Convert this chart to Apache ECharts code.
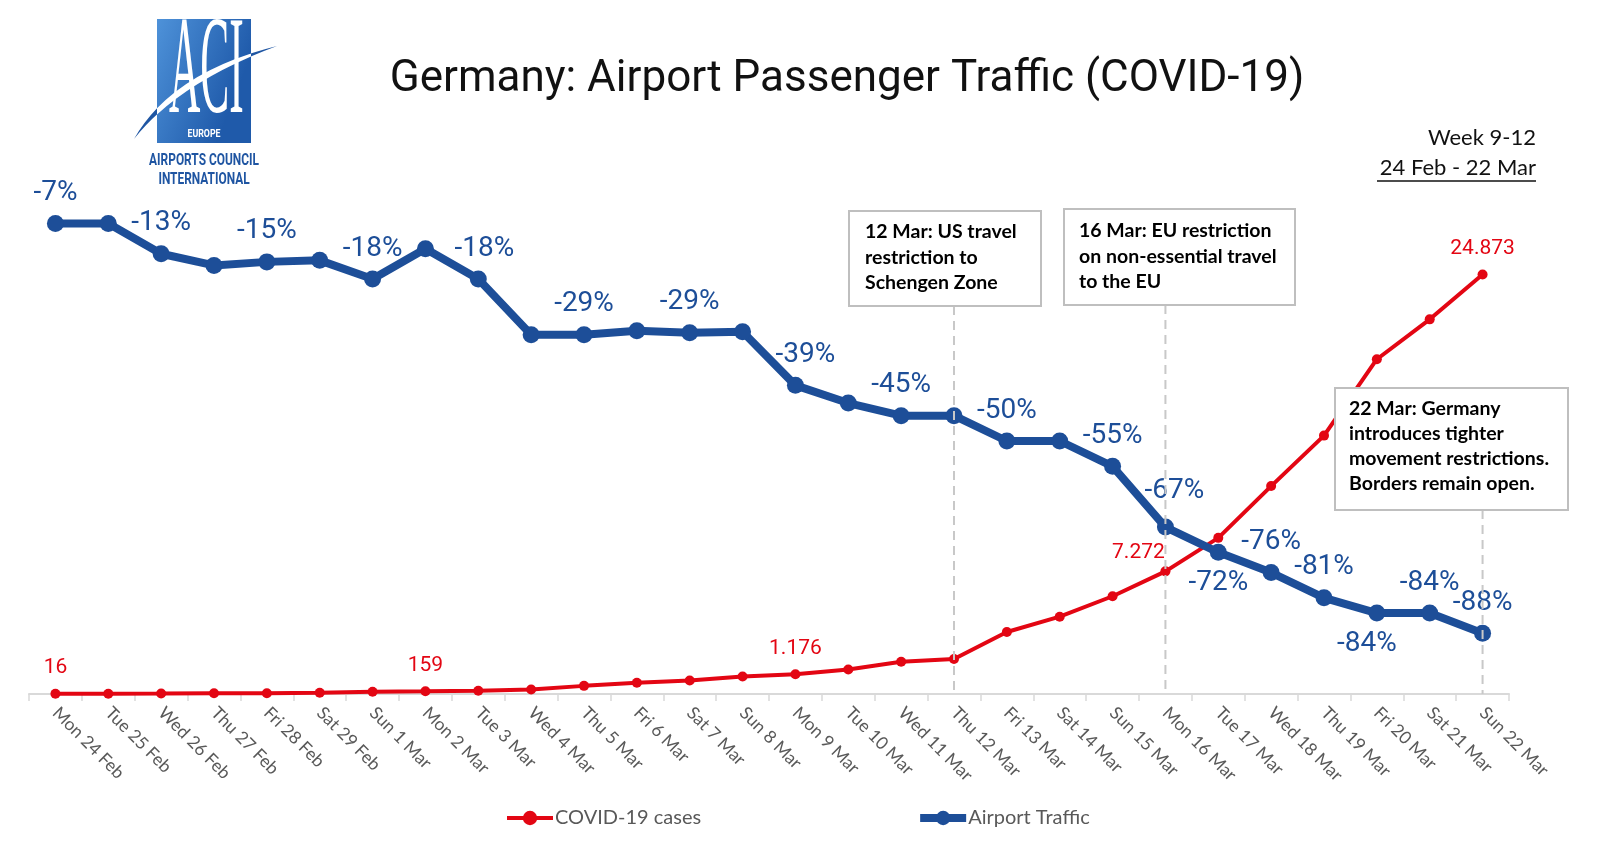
<!DOCTYPE html>
<html><head><meta charset="utf-8">
<script src="https://cdn.jsdelivr.net/npm/echarts@6/dist/echarts.min.js"></script>
<style>html,body{margin:0;padding:0;background:#fff}#c{width:1600px;height:847px}</style>
</head><body><div id="c"></div>
<script>
const categories = ['Mon 24 Feb','Tue 25 Feb','Wed 26 Feb','Thu 27 Feb','Fri 28 Feb','Sat 29 Feb','Sun 1 Mar','Mon 2 Mar','Tue 3 Mar','Wed 4 Mar','Thu 5 Mar','Fri 6 Mar','Sat 7 Mar','Sun 8 Mar','Mon 9 Mar','Tue 10 Mar','Wed 11 Mar','Thu 12 Mar','Fri 13 Mar','Sat 14 Mar','Sun 15 Mar','Mon 16 Mar','Tue 17 Mar','Wed 18 Mar','Thu 19 Mar','Fri 20 Mar','Sat 21 Mar','Sun 22 Mar'];
const covidCases = [16,17,27,46,48,79,130,159,196,262,482,670,799,1040,1176,1457,1908,2078,3675,4585,5795,7272,9257,12327,15320,19848,22213,24873];
const airportTraffic = [-7,-7,-13,-15.3,-14.6,-14.3,-18,-12,-18,-29,-29,-28.2,-28.6,-28.4,-39,-42.5,-45,-45,-50,-50,-55,-67,-72,-76,-81,-84,-84,-88];
const casesLabelled = [0,7,14,21,27];
const trafficLabelled = [0,2,4,6,8,10,12,14,16,18,20,21,22,23,24,25,26,27];
const trafficLabelBelow = [22,25];
const annotations = [
  {cat:'Thu 12 Mar', lines:['12 Mar: US travel','restriction to','Schengen Zone']},
  {cat:'Mon 16 Mar', lines:['16 Mar: EU restriction','on non-essential travel','to the EU']},
  {cat:'Sun 22 Mar', lines:['22 Mar: Germany','introduces tighter','movement restrictions.','Borders remain open.']}
];
const titleText = 'Germany: Airport Passenger Traffic (COVID-19)';
const weekText = ['Week 9-12','24 Feb - 22 Mar'];

const BLUE = '#1d4e98', RED = '#e30613';
const fmtDE = v => String(v).replace(/\B(?=(\d{3})+(?!\d))/g, '.');
const labelNudge = {8:[6,0], 14:[10,0], 21:[9,-6], 25:[-10,0]};

const chart = echarts.init(document.getElementById('c'), null, {renderer:'canvas'});

const redSeries = {
  name:'COVID-19 cases', type:'line', yAxisIndex:1, z:2,
  symbol:'circle', symbolSize:10,
  lineStyle:{width:4, color:RED}, itemStyle:{color:RED},
  label:{fontFamily:'Roboto', fontSize:21, color:RED, formatter:p=>fmtDE(p.value), distance:10},
  data: covidCases.map((v,i)=>({
    value:v,
    label: casesLabelled.includes(i) ? (i===21 ? {show:true, position:'top', offset:[-27,7]} : {show:true, position:'top'}) : {show:false}
  }))
};
const blueSeries = {
  name:'Airport Traffic', type:'line', yAxisIndex:0, z:3,
  symbol:'circle', symbolSize:17,
  lineStyle:{width:8, color:BLUE}, itemStyle:{color:BLUE},
  label:{fontFamily:'Roboto', fontSize:28, color:BLUE, formatter:p=>Math.round(p.value)+'%', distance:8},
  data: airportTraffic.map((v,i)=>({
    value:v,
    label: trafficLabelled.includes(i) ? {show:true, position: trafficLabelBelow.includes(i)?'bottom':'top', offset: labelNudge[i]||[0,0]} : {show:false}
  }))
};

chart.setOption({
  animation:false,
  backgroundColor:'#fff',
  legend:{
    data:[
      {name:'COVID-19 cases', lineStyle:{width:4}},
      {name:'Airport Traffic', lineStyle:{width:8}}
    ],
    left:500, top:803, itemGap:215,
    itemWidth:46, itemHeight:18,
    textStyle:{fontFamily:'Lato', fontSize:20, color:'#595959', padding:[0,0,0,-3]}
  },
  grid:{left:29, right:91, top:188, bottom:153},
  xAxis:{
    type:'category', data:categories, boundaryGap:true,
    axisLine:{onZero:false, lineStyle:{color:'#d9d9d9', width:2}},
    axisTick:{show:true, length:7, lineStyle:{color:'#d9d9d9', width:1.5}},
    axisLabel:{interval:0, rotate:-45, margin:16, fontFamily:'Lato', fontSize:17.5, color:'#595959'}
  },
  yAxis:[
    {type:'value', min:-100, max:0, show:false},
    {type:'value', min:0, max:30000, show:false}
  ],
  series:[redSeries, blueSeries]
});

// annotation graphics
const yBottom = chart.convertToPixel({yAxisIndex:0}, -100);
const boxes = [
  {x:849, y:211, w:192, h:95, tx:865, ty:219, lh:25.5},
  {x:1064, y:209, w:231, h:96, tx:1079, ty:218, lh:25.5},
  {x:1335, y:388, w:233, h:122, tx:1349, ty:396.5, lh:25}
];
const graphics = [];
annotations.forEach((a,k)=>{
  const b = boxes[k];
  const xPix = chart.convertToPixel({xAxisIndex:0}, a.cat);
  graphics.push({type:'line', z:5, shape:{x1:xPix, y1:b.y+b.h, x2:xPix, y2:yBottom},
    style:{stroke:'#c8c8c8', lineWidth:2, lineDash:[9,6]}});
  graphics.push({type:'rect', z:10, shape:{x:b.x, y:b.y, width:b.w, height:b.h},
    style:{fill:'#fff', stroke:'#bfbfbf', lineWidth:2}});
  graphics.push({type:'text', z:11, x:b.tx, y:b.ty,
    style:{text:a.lines.join('\n'), fontFamily:'Lato', fontSize:19.5, fontWeight:'bold', lineHeight:b.lh, fill:'#000', verticalAlign:'top'}});
});
graphics.push({type:'text', z:11, x:847, y:80,
  style:{text:titleText, fontFamily:'Roboto', fontSize:44, fontWeight:'normal', fill:'#111', align:'center', verticalAlign:'middle',
    shadowColor:'rgba(0,0,0,0.4)', shadowBlur:5, shadowOffsetX:2, shadowOffsetY:3}});
graphics.push({type:'text', z:11, x:1536, y:138,
  style:{text:weekText[0], fontFamily:'Lato', fontSize:22, fill:'#111', align:'right', verticalAlign:'middle'}});
graphics.push({type:'text', z:11, x:1536, y:168,
  style:{text:weekText[1], fontFamily:'Lato', fontSize:22, fill:'#111', align:'right', verticalAlign:'middle'}});
graphics.push({type:'line', z:11, shape:{x1:1377, y1:181, x2:1536, y2:181}, style:{stroke:'#111', lineWidth:1.5}});
chart.setOption({graphic:graphics});

// ACI logo (drawn with zrender primitives)
const zr = chart.getZr();
const G = echarts.graphic;
let zz = 200;
const swooshD = 'M134,139 Q172,72 277,46 Q178,83 134,139 Z';
zr.add(G.makePath(swooshD, {z:zz++, style:{fill:'#1f56a3'}}));
zr.add(new G.Rect({z:zz++, shape:{x:157, y:19, width:94, height:124},
  style:{fill:new G.LinearGradient(0,0,1,0.3,[{offset:0,color:'#4e92d9'},{offset:1,color:'#1f5aaa'}])}}));
zr.add(new G.Text({z:zz++, x:169, y:75, scaleX:0.62, scaleY:2.0,
  style:{text:'ACI', fontFamily:'Liberation Serif', fontSize:70, fill:'#fff', verticalAlign:'middle', align:'left'}}));
const whiteSwoosh = G.makePath(swooshD, {z:zz++, style:{fill:'#fff'}});
whiteSwoosh.setClipPath(new G.Rect({shape:{x:157, y:19, width:94, height:124}}));
zr.add(whiteSwoosh);
zr.add(new G.Text({z:zz++, x:204, y:134, scaleX:0.8,
  style:{text:'EUROPE', fontFamily:'Roboto', fontWeight:'bold', fontSize:11, fill:'#fff', align:'center', verticalAlign:'middle'}}));
zr.add(new G.Text({z:zz++, x:204, y:161, scaleX:0.7,
  style:{text:'AIRPORTS COUNCIL', fontFamily:'Roboto', fontWeight:'bold', fontSize:17, fill:'#1f55a2', align:'center', verticalAlign:'middle'}}));
zr.add(new G.Text({z:zz++, x:204, y:180, scaleX:0.7,
  style:{text:'INTERNATIONAL', fontFamily:'Roboto', fontWeight:'bold', fontSize:17, fill:'#1f55a2', align:'center', verticalAlign:'middle'}}));
</script>
</body></html>
